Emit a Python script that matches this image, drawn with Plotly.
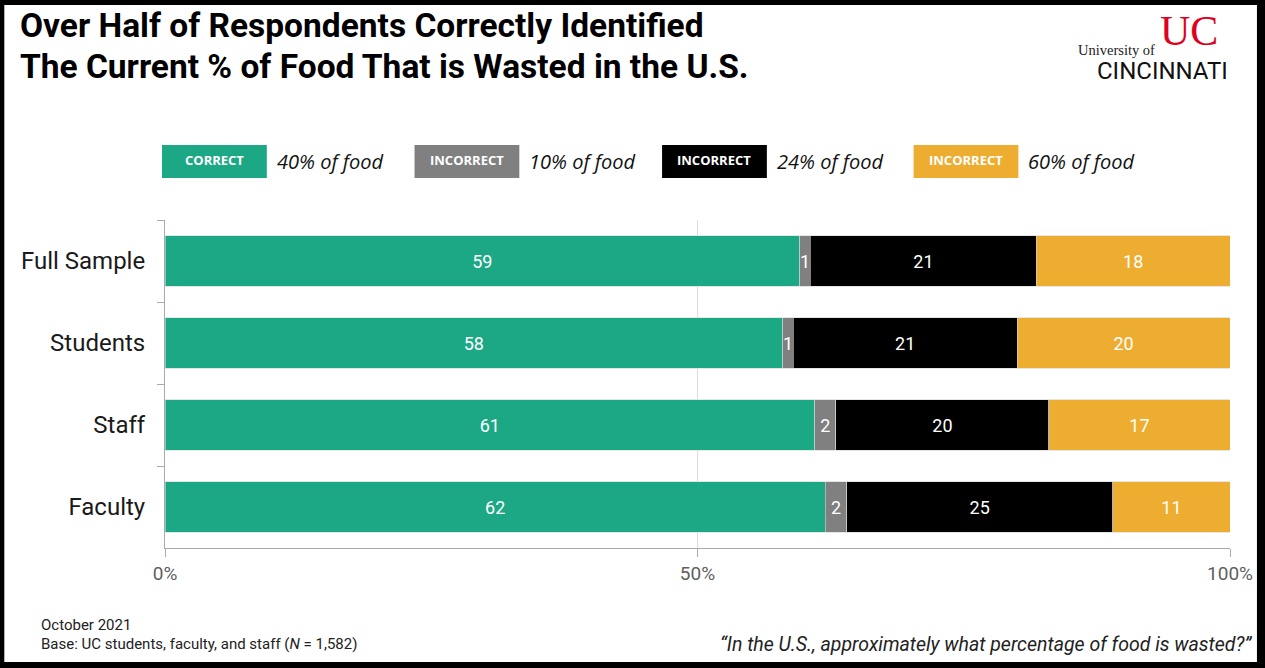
import plotly.graph_objects as go

# ---------------- data ----------------
groups = ["Full Sample", "Students", "Staff", "Faculty"]
series_names = ["Correct: 40% of food", "Incorrect: 10% of food",
                "Incorrect: 24% of food", "Incorrect: 60% of food"]
legend_tags = ["CORRECT", "INCORRECT", "INCORRECT", "INCORRECT"]
legend_texts = ["40% of food", "10% of food", "24% of food", "60% of food"]
correct_40 = [59, 58, 61, 62]
incorrect_10 = [1, 1, 2, 2]
incorrect_24 = [21, 21, 20, 25]
incorrect_60 = [18, 20, 17, 11]
x_ticks = [0, 50, 100]
x_tick_labels = ["0%", "50%", "100%"]

colors = ["#1ca885", "#808080", "#000000", "#edad30"]

W, H = 1265, 668
L, R, T, B = 165, 1232, 220, 548


def px(x):
    return (x - L) / (R - L)


def py(y):
    return (B - y) / (B - T)


fig = go.Figure()
for name, vals, col in zip(series_names,
                           [correct_40, incorrect_10, incorrect_24, incorrect_60],
                           colors):
    fig.add_trace(go.Bar(
        y=groups, x=vals, name=name, orientation="h",
        text=vals, texttemplate="%{text}", textposition="inside",
        insidetextanchor="middle", constraintext="none",
        textfont=dict(color="white", size=18, family="Roboto"),
        marker=dict(color=col, line=dict(color="#d6d6d6", width=0.6)),
        width=0.61, showlegend=False,
    ))

shapes = []
annotations = []

# legend (custom)
box_x = [162, 415, 663, 915]
for tag, txt, col, bx in zip(legend_tags, legend_texts, colors, box_x):
    shapes.append(dict(type="rect", xref="paper", yref="paper",
                       x0=px(bx), x1=px(bx + 105), y0=py(178), y1=py(145),
                       fillcolor=col, line=dict(width=0), layer="above"))
    annotations.append(dict(xref="paper", yref="paper", x=px(bx + 52.5), y=py(160),
                            text="<b>" + tag + "</b>", showarrow=False,
                            xanchor="center", yanchor="middle",
                            font=dict(family="Open Sans", size=13, color="white")))
    annotations.append(dict(xref="paper", yref="paper", x=px(bx + 113), y=py(161),
                            text="<i>" + txt + "</i>", showarrow=False,
                            xanchor="left", yanchor="middle",
                            font=dict(family="Open Sans", size=20, color="#111111")))

# title
annotations.append(dict(xref="paper", yref="paper", x=px(18), y=py(25),
                        text="<b>Over Half of Respondents Correctly Identified</b>",
                        showarrow=False, xanchor="left", yanchor="middle",
                        font=dict(family="Roboto", size=33.5, color="#000000")))
annotations.append(dict(xref="paper", yref="paper", x=px(18), y=py(67),
                        text="<b>The Current % of Food That is Wasted in the U.S.</b>",
                        showarrow=False, xanchor="left", yanchor="middle",
                        font=dict(family="Roboto", size=33.5, color="#000000")))

# logo
annotations.append(dict(xref="paper", yref="paper", x=px(1191), y=py(31),
                        text="UC", showarrow=False, xanchor="center", yanchor="middle",
                        borderpad=0,
                        font=dict(family="Liberation Serif", size=42, color="#e00122")))
annotations.append(dict(xref="paper", yref="paper", x=px(1079), y=py(50),
                        text="University of", showarrow=False, xanchor="left",
                        yanchor="middle", borderpad=0,
                        font=dict(family="Liberation Serif", size=14.5, color="#222222")))
annotations.append(dict(xref="paper", yref="paper", x=px(1164), y=py(71),
                        text="CINCINNATI", showarrow=False, xanchor="center",
                        yanchor="middle", borderpad=0,
                        font=dict(family="Roboto", size=24, color="#111111")))

# footnotes
annotations.append(dict(xref="paper", yref="paper", x=px(39), y=py(625),
                        text="October 2021", showarrow=False, xanchor="left",
                        yanchor="middle",
                        font=dict(family="Roboto", size=15, color="#222222")))
annotations.append(dict(xref="paper", yref="paper", x=px(39), y=py(644),
                        text="Base: UC students, faculty, and staff (<i>N</i> = 1,582)",
                        showarrow=False, xanchor="left", yanchor="middle",
                        font=dict(family="Roboto", size=15, color="#222222")))
annotations.append(dict(xref="paper", yref="paper", x=px(1256), y=py(644),
                        text="<i>\u201cIn the U.S., approximately what percentage of food is wasted?\u201d</i>",
                        showarrow=False, xanchor="right", yanchor="middle",
                        font=dict(family="Roboto", size=19.5, color="#222222")))

# black frame
for (x0, y0, x1, y1) in [(-20, -20, 4, 700), (-20, -20, 1300, 5),
                         (1259, -20, 1300, 700), (-20, 662, 1300, 700)]:
    shapes.append(dict(type="rect", xref="paper", yref="paper",
                       x0=px(x0), x1=px(x1), y0=py(y1), y1=py(y0),
                       fillcolor="black", line=dict(width=0), layer="above"))

fig.update_layout(
    width=W, height=H,
    margin=dict(l=L, r=W - R, t=T, b=H - B, pad=0),
    barmode="stack", barnorm="percent",
    paper_bgcolor="white", plot_bgcolor="white",
    shapes=shapes, annotations=annotations,
    xaxis=dict(range=[0, 100], tickvals=x_ticks, ticktext=x_tick_labels,
               ticks="outside", ticklen=8, tickcolor="#aaaaaa",
               showline=True, linecolor="#aaaaaa", linewidth=1,
               showgrid=True, gridcolor="#dedede", zeroline=False,
               tickfont=dict(family="Roboto", size=19, color="#5f5f5f"),
               fixedrange=True),
    yaxis=dict(type="category", categoryorder="array", categoryarray=groups,
               autorange="reversed", tickson="boundaries",
               ticks="outside", ticklen=7, tickcolor="#aaaaaa",
               showline=True, linecolor="#aaaaaa", linewidth=1,
               showgrid=False, zeroline=False,
               ticklabelstandoff=14,
               tickfont=dict(family="Roboto", size=24, color="#1a1a1a"),
               fixedrange=True),
    font=dict(family="Roboto"),
)

fig.write_html("out.html", config={"displayModeBar": False},
               post_script="document.body.style.margin='0';"
                           "document.body.style.overflow='hidden';")
